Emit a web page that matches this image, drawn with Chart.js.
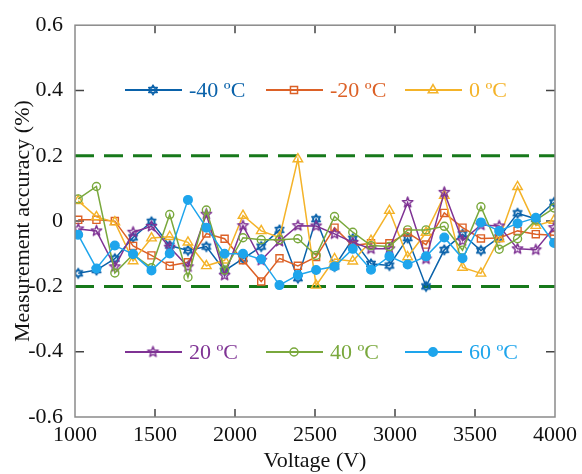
<!DOCTYPE html>
<html>
<head>
<meta charset="utf-8">
<script src="https://cdn.jsdelivr.net/npm/chart.js@4.4.1/dist/chart.umd.min.js"></script>
<style>
  html, body { margin: 0; padding: 0; background: #fff; }
  canvas { display: block; }
</style>
</head>
<body>
<canvas id="chart" width="582" height="474"></canvas>
<script>
// voltages (V) of the 27 measurement points
const volts = [1020, 1134, 1249, 1363, 1478, 1592, 1706, 1821, 1935, 2050, 2164, 2278, 2393, 2507,
    2622, 2736, 2850, 2965, 3079, 3194, 3308, 3422, 3537, 3651, 3766, 3880, 3994];

// measurement accuracy (%) for each temperature
const accMinus40 = [-0.16, -0.15, -0.115, -0.05, -0.002, -0.075, -0.09, -0.078, -0.152, -0.115, -0.078, -0.027, -0.175, 0.006,
    -0.139, -0.054, -0.131, -0.136, -0.052, -0.2, -0.088, -0.04, -0.09, -0.05, 0.024, 0.007, 0.057];
const accMinus20 = [0.004, 0.004, 0, -0.076, -0.105, -0.137, -0.126, -0.038, -0.054, -0.12, -0.185, -0.114, -0.137, -0.11,
    -0.02, -0.075, -0.068, -0.068, -0.035, -0.072, 0.025, -0.02, -0.053, -0.052, -0.03, -0.04, -0.043];
const acc0 = [0.062, 0.013, -0.003, -0.122, -0.052, -0.048, -0.065, -0.137, -0.12, 0.017, -0.03, -0.05, 0.19, -0.197,
    -0.116, -0.123, -0.06, 0.032, -0.11, -0.035, 0.078, -0.142, -0.16, -0.054, 0.105, -0.014, 0.002];
const acc20 = [-0.024, -0.03, -0.14, -0.034, -0.016, -0.08, -0.14, 0.021, -0.166, -0.014, -0.12, -0.062, -0.014, -0.015,
    -0.039, -0.065, -0.085, -0.085, 0.057, -0.116, 0.088, -0.06, -0.012, -0.015, -0.085, -0.088, -0.02];
const acc40 = [0.068, 0.106, -0.159, -0.102, -0.143, 0.02, -0.172, 0.034, -0.15, -0.051, -0.057, -0.057, -0.054, -0.105,
    0.014, -0.034, -0.075, -0.078, -0.027, -0.027, -0.016, -0.089, 0.044, -0.086, -0.054, 0.003, 0.04];
const acc60 = [-0.042, -0.145, -0.075, -0.101, -0.151, -0.099, 0.065, -0.02, -0.1, -0.1, -0.117, -0.196, -0.165, -0.15,
    -0.139, -0.085, -0.149, -0.108, -0.133, -0.108, -0.05, -0.114, -0.004, -0.03, -0.007, 0.01, -0.067];

const seriesLabels = ['-40 ºC', '-20 ºC', '0 ºC', '20 ºC', '40 ºC', '60 ºC'];
const limitLevels = [0.2, -0.2];
const xRange = [1000, 4000];
const xTicks = [1000, 1500, 2000, 2500, 3000, 3500, 4000];
const yTicks = [-0.6, -0.4, -0.2, 0, 0.2, 0.4, 0.6];

const FONT = "'Liberation Serif', 'Times New Roman', serif";
const colors = ['#0a62aa', '#dc6127', '#f4b329', '#7f3394', '#79a83c', '#1ea5ec'];

// star shaped markers as small canvases
function starMarker(color, spikes, outerR, innerR, twoTriangles) {
    const size = Math.ceil(outerR * 2 + 4);
    const c = document.createElement('canvas');
    c.width = size;
    c.height = size;
    const g = c.getContext('2d');
    const cx = size / 2, cy = size / 2;
    g.strokeStyle = color;
    g.lineWidth = 1.4;
    g.lineJoin = 'round';
    if (twoTriangles) {
        [-90, 90].forEach(start => {
            g.beginPath();
            for (let k = 0; k < 3; k++) {
                const a = (start + k * 120) * Math.PI / 180;
                const px = cx + outerR * Math.cos(a), py = cy + outerR * Math.sin(a);
                if (k === 0) g.moveTo(px, py); else g.lineTo(px, py);
            }
            g.closePath();
            g.stroke();
        });
    } else {
        g.beginPath();
        for (let k = 0; k < spikes * 2; k++) {
            const r = k % 2 === 0 ? outerR : innerR;
            const a = (-90 + k * 180 / spikes) * Math.PI / 180;
            const px = cx + r * Math.cos(a), py = cy + r * Math.sin(a);
            if (k === 0) g.moveTo(px, py); else g.lineTo(px, py);
        }
        g.closePath();
        g.stroke();
    }
    return c;
}

const hexagram = starMarker(colors[0], 6, 5, 2.5, true);
const pentagram = starMarker(colors[3], 5, 5.5, 2.3, false);

const seriesValues = [accMinus40, accMinus20, acc0, acc20, acc40, acc60];
const markerStyles = [
    { pointStyle: hexagram, pointRadius: 5 },
    { pointStyle: 'rect', pointRadius: 5 },
    { pointStyle: 'triangle', pointRadius: 5.5 },
    { pointStyle: pentagram, pointRadius: 5.5 },
    { pointStyle: 'circle', pointRadius: 4 },
    { pointStyle: 'circle', pointRadius: 4.3, filled: true }
];

const datasets = seriesValues.map((vals, i) => ({
    label: seriesLabels[i],
    data: volts.map((v, j) => ({ x: v, y: vals[j] })),
    borderColor: colors[i],
    backgroundColor: markerStyles[i].filled ? colors[i] : 'rgba(0,0,0,0)',
    borderWidth: 1.5,
    pointStyle: markerStyles[i].pointStyle,
    pointRadius: markerStyles[i].pointRadius,
    pointBorderWidth: 1.4,
    pointBorderColor: colors[i],
    pointBackgroundColor: markerStyles[i].filled ? colors[i] : 'rgba(255,255,255,0)',
    tension: 0,
    order: 6 - i
}));

limitLevels.forEach(level => {
    datasets.push({
        label: 'limit',
        data: xRange.map(x => ({ x: x, y: level })),
        borderColor: '#17791b',
        borderWidth: 3,
        borderDash: [19, 10],
        pointRadius: 0,
        order: 10
    });
});

// box, inward tick marks and the two in-plot legends
const framePlugin = {
    id: 'frame',
    beforeDatasetsDraw(chart) {
        const { ctx, chartArea: a, scales } = chart;
        ctx.save();
        ctx.strokeStyle = '#444';
        ctx.lineWidth = 1.5;
        ctx.beginPath();
        xTicks.slice(1, -1).forEach(t => {
            const px = scales.x.getPixelForValue(t);
            ctx.moveTo(px, a.bottom); ctx.lineTo(px, a.bottom - 8);
            ctx.moveTo(px, a.top); ctx.lineTo(px, a.top + 8);
        });
        yTicks.slice(1, -1).forEach(t => {
            const py = scales.y.getPixelForValue(t);
            ctx.moveTo(a.left, py); ctx.lineTo(a.left + 9, py);
            ctx.moveTo(a.right, py); ctx.lineTo(a.right - 9, py);
        });
        ctx.stroke();
        ctx.restore();
    },
    afterDraw(chart) {
        const { ctx, chartArea: a } = chart;
        ctx.save();
        ctx.strokeStyle = '#8a8a8a';
        ctx.lineWidth = 1.5;
        ctx.strokeRect(a.left, a.top, a.right - a.left, a.bottom - a.top);

        const rows = [{ y: 90, items: [0, 1, 2] }, { y: 352, items: [3, 4, 5] }];
        const startX = [125, 266, 405];
        ctx.font = '22px ' + FONT;
        ctx.textBaseline = 'middle';
        rows.forEach(row => {
            row.items.forEach((idx, k) => {
                const ds = chart.data.datasets[idx];
                const x0 = startX[k];
                ctx.strokeStyle = colors[idx];
                ctx.lineWidth = 2;
                ctx.beginPath();
                ctx.moveTo(x0, row.y);
                ctx.lineTo(x0 + 57, row.y);
                ctx.stroke();
                ctx.fillStyle = ds.pointBackgroundColor;
                ctx.strokeStyle = colors[idx];
                ctx.lineWidth = 1.5;
                Chart.helpers.drawPoint(ctx, {
                    pointStyle: ds.pointStyle,
                    radius: ds.pointRadius,
                    rotation: 0,
                    borderWidth: 1.5
                }, x0 + 28, row.y);
                ctx.fillStyle = colors[idx];
                ctx.fillText(ds.label, x0 + 64, row.y + 1);
            });
        });
        ctx.restore();
    }
};

new Chart(document.getElementById('chart'), {
    type: 'line',
    data: { datasets: datasets },
    options: {
        responsive: false,
        animation: false,
        layout: { padding: { top: 24, right: 27, left: 0, bottom: 0 } },
        plugins: {
            legend: { display: false },
            tooltip: { enabled: false }
        },
        scales: {
            x: {
                type: 'linear',
                min: xRange[0],
                max: xRange[1],
                afterBuildTicks: scale => { scale.ticks = xTicks.map(v => ({ value: v })); },
                afterFit: scale => { scale.height = 57; },
                grid: { display: false, drawTicks: false },
                border: { display: false },
                ticks: {
                    color: '#111',
                    font: { family: FONT, size: 22 },
                    padding: 5,
                    maxRotation: 0,
                    autoSkip: false,
                    callback: v => String(v)
                },
                title: {
                    display: true,
                    text: 'Voltage (V)',
                    color: '#111',
                    font: { family: FONT, size: 22 },
                    padding: { top: 0, bottom: 0 }
                }
            },
            y: {
                type: 'linear',
                min: -0.6,
                max: 0.6,
                afterBuildTicks: scale => { scale.ticks = yTicks.map(v => ({ value: v })); },
                afterFit: scale => { scale.width = 75; },
                grid: { display: false, drawTicks: false },
                border: { display: false },
                ticks: {
                    color: '#111',
                    font: { family: FONT, size: 22 },
                    padding: 12,
                    callback: v => (Math.abs(v) < 1e-9 ? '0' : v.toFixed(1))
                },
                title: {
                    display: true,
                    text: 'Measurement accuracy (%)',
                    color: '#111',
                    font: { family: FONT, size: 22 },
                    padding: { top: 10, bottom: 0 }
                }
            }
        }
    },
    plugins: [framePlugin]
});
</script>
</body>
</html>
